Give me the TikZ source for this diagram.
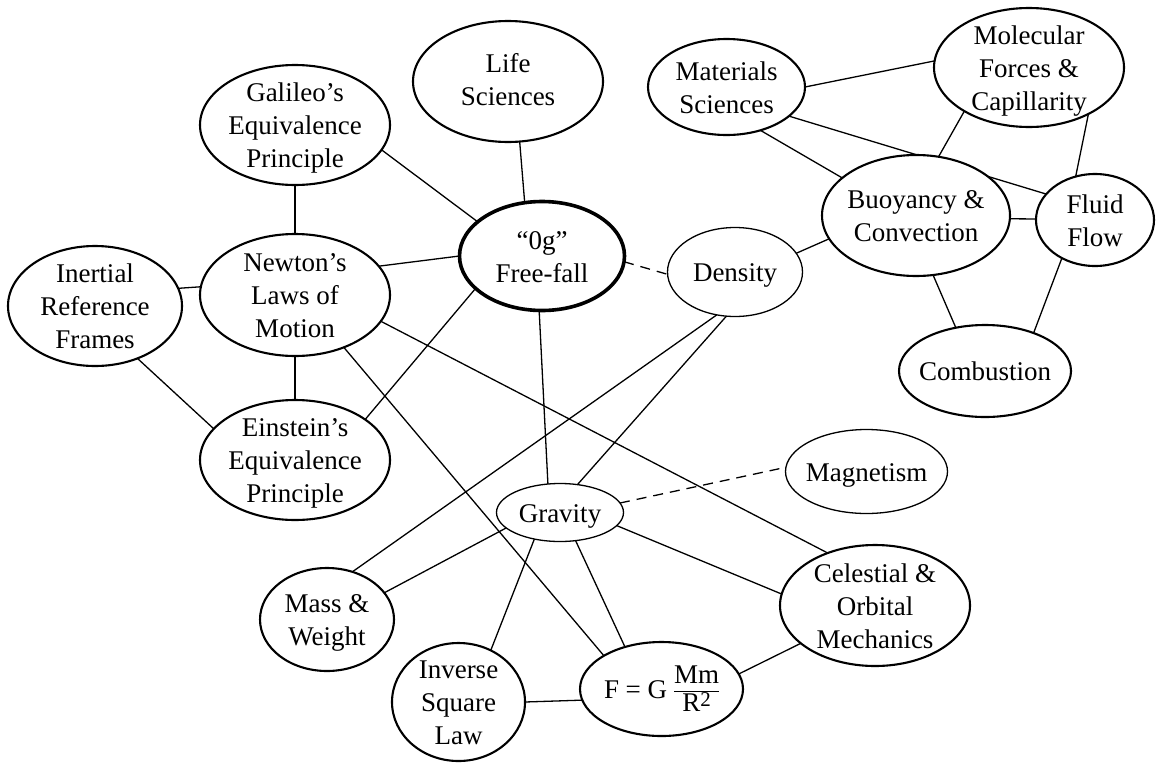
\documentclass[tikz,border=0pt]{standalone}
\usepackage{fontspec}
\setmainfont{Liberation Serif}
\usetikzlibrary{shapes.geometric}
\pgfdeclarelayer{bg}
\pgfsetlayers{bg,main}
\newcommand{\nt}[1]{\raisebox{-9.5pt}[0pt][0pt]{\makebox[0pt]{\begin{tabular}{@{}c@{}}#1\end{tabular}}}}
\begin{document}
\begin{tikzpicture}[x=1pt,y=-1pt,
  font=\fontsize{27}{33}\selectfont,
  ell/.style={ellipse, draw, fill=white, inner sep=0pt, outer sep=0pt, line width=2.1pt},
  thinell/.style={ell, line width=1.3pt},
  thickell/.style={ell, line width=3.6pt},
  sz/.style 2 args={minimum width=#1pt, minimum height=#2pt},
  conn/.style={line width=1.3pt},
  dashconn/.style={conn, dash pattern=on 10pt off 7pt}]
\useasboundingbox (0,0) rectangle (1158,763);
% nodes
\node[ell, sz={190}{120}] (gal) at (295,125) {\nt{Galileo’s\\Equivalence\\Principle}};
\node[ell, sz={190}{121}] (life) at (508,81.5) {\raisebox{4pt}{\nt{Life\\Sciences}}};
\node[ell, sz={190}{122}] (newton) at (295,295) {\nt{Newton’s\\Laws of\\Motion}};
\node[ell, sz={174}{120}] (inert) at (95,306) {\nt{Inertial\\Reference\\Frames}};
\node[thickell, sz={165}{109}] (ff) at (542,256) {\nt{“0g”\\Free-fall}};
\node[ell, sz={190}{120}] (einst) at (295,460) {\nt{Einstein’s\\Equivalence\\Principle}};
\node[ell, sz={157}{96}] (mat) at (726.5,87) {\nt{Materials\\Sciences}};
\node[ell, sz={190}{119}] (mol) at (1029,67.5) {\nt{Molecular\\Forces \&\\Capillarity}};
\node[ell, sz={188}{121}] (buoy) at (916,215.5) {\nt{Buoyancy \&\\Convection}};
\node[ell, sz={118}{92}] (fluid) at (1095,220) {\nt{Fluid\\Flow}};
\node[thinell, sz={135}{89}] (dens) at (735,272) {\nt{Density}};
\node[ell, sz={172}{92}] (comb) at (985,371) {\nt{Combustion}};
\node[thinell, sz={162}{84}] (mag) at (866.5,471.5) {\nt{Magnetism}};
\node[thinell, sz={127}{58}] (grav) at (560,512.5) {\nt{Gravity}};
\node[ell, sz={134}{103}] (mass) at (327,619.5) {\nt{Mass \&\\Weight}};
\node[ell, sz={190}{121}] (celes) at (875,605.5) {\nt{Celestial \&\\Orbital\\Mechanics}};
\node[ell, sz={133}{118}] (inv) at (458.5,702) {\nt{Inverse\\Square\\Law}};
\node[ell, sz={163}{94}] (F) at (661.5,689) {\nt{F = G {\setlength{\arrayrulewidth}{1.2pt}\renewcommand{\arraystretch}{0.78}\begin{tabular}[c]{@{}c@{}}Mm\\\hline R\raisebox{5pt}{\fontsize{21}{21}\selectfont 2}\end{tabular}}}};
% connectors
\begin{pgfonlayer}{bg}
\draw[conn] (gal.south) -- (newton.north);
\draw[conn] (gal.-16) -- (ff.152);
\draw[conn] (life.-79) -- (ff.108);
\draw[conn] (newton.19) -- (ff.180);
\draw[conn] (inert.12) -- (newton.175);
\draw[conn] (newton.south) -- (einst.north);
\draw[conn] (inert.-51) -- (einst.159);
\draw[conn] (einst.30) -- (ff.206);
\draw[conn] (newton.-47) -- (F.150);
\draw[conn] (newton.-17) -- (celes.132);
\draw[conn] (ff.-93) -- (grav.113);
\draw[dashconn] (ff.-4) -- (dens.182);
\draw[conn] (dens.17) -- (buoy.195);
\draw[conn] (dens.-101) -- (grav.58);
\draw[conn] (dens.-113) -- (mass.62);
\draw[dashconn] (grav.9) -- (mag.177);
\draw[conn] (grav.196) -- (mass.25);
\draw[conn] (grav.226) -- (inv.58);
\draw[conn] (grav.-61) -- (F.131);
\draw[conn] (grav.-13) -- (celes.173);
\draw[conn] (inv.0) -- (F.188);
\draw[conn] (F.11) -- (celes.207);
\draw[conn] (mat.0) -- (mol.176);
\draw[conn] (mat.-52) -- (buoy.153);
\draw[conn] (mat.-25) -- (fluid.152);
\draw[conn] (mol.214) -- (buoy.69);
\draw[conn] (mol.-38) -- (fluid.114);
\draw[conn] (buoy.-2) -- (fluid.179);
\draw[conn] (buoy.-74) -- (comb.124);
\draw[conn] (fluid.229) -- (comb.38);
\end{pgfonlayer}
\end{tikzpicture}
\end{document}
